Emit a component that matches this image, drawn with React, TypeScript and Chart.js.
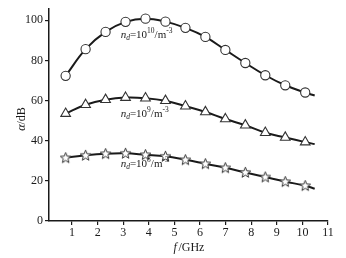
import React, { useEffect, useRef } from "react";
import { Chart, registerables } from "chart.js";

Chart.register(...registerables);

const freqs = [0.75, 1.53, 2.31, 3.09, 3.87, 4.65, 5.43, 6.21, 6.99, 7.77, 8.55, 9.33, 10.11];
const lineEndFreq = 10.48;
const alpha1e10 = [72.3, 85.6, 94.2, 99.2, 100.8, 99.3, 96.2, 91.7, 85.2, 78.7, 72.6, 67.6, 64.0];
const alpha1e9 = [53.5, 57.9, 60.4, 61.5, 61.2, 59.9, 57.2, 54.3, 50.8, 47.7, 44.0, 41.6, 39.3];
const alpha1e8 = [31.5, 32.7, 33.5, 33.7, 33.0, 32.2, 30.5, 28.5, 26.5, 24.2, 21.9, 19.6, 17.6];
const lineEndValues = [62.5, 38.3, 16.1];
const xTicks = [1, 2, 3, 4, 5, 6, 7, 8, 9, 10, 11];
const yTicks = [0, 20, 40, 60, 80, 100];
const seriesExponents = ["10", "9", "8"];

const SERIF = "'Liberation Serif', 'Times New Roman', serif";
const INK = "#1a1a1a";

function makeStar(): HTMLCanvasElement {
  const c = document.createElement("canvas");
  c.width = 13;
  c.height = 13;
  const ctx = c.getContext("2d")!;
  const cx = 6.5, cy = 6.8, ro = 5.6, ri = 2.4;
  ctx.beginPath();
  for (let i = 0; i < 10; i++) {
    const r = i % 2 === 0 ? ro : ri;
    const a = -Math.PI / 2 + (i * Math.PI) / 5;
    const px = cx + r * Math.cos(a);
    const py = cy + r * Math.sin(a);
    if (i === 0) ctx.moveTo(px, py);
    else ctx.lineTo(px, py);
  }
  ctx.closePath();
  ctx.fillStyle = "#fff";
  ctx.fill();
  ctx.strokeStyle = "#333";
  ctx.lineWidth = 1;
  ctx.stroke();
  return c;
}

const toPts = (vals: number[], end?: number) => {
  const pts = freqs.map((f, i) => ({ x: f, y: vals[i] }));
  if (end !== undefined) pts.push({ x: lineEndFreq, y: end });
  return pts;
};

export default function App() {
  const ref = useRef<HTMLCanvasElement | null>(null);

  useEffect(() => {
    if (!ref.current) return;
    const star = makeStar();

    const labelsPlugin = {
      id: "customText",
      afterDraw(chart: any) {
        const ctx = chart.ctx as CanvasRenderingContext2D;
        const xs = chart.scales.x;
        const ys = chart.scales.y;
        ctx.save();
        ctx.fillStyle = INK;
        ctx.textBaseline = "alphabetic";
        ctx.textAlign = "left";
        // series annotations
        const anchors = [
          { x: 2.9, y: 91.2 },
          { x: 2.9, y: 51.9 },
          { x: 2.9, y: 27.1 },
        ];
        anchors.forEach((a, i) => {
          let px = xs.getPixelForValue(a.x);
          const py = ys.getPixelForValue(a.y);
          ctx.font = `italic 11px ${SERIF}`;
          ctx.fillText("n", px, py);
          px += ctx.measureText("n").width;
          ctx.font = `italic 7.5px ${SERIF}`;
          ctx.fillText("d", px, py + 2);
          px += ctx.measureText("d").width;
          ctx.font = `11px ${SERIF}`;
          ctx.fillText("=10", px, py);
          px += ctx.measureText("=10").width;
          ctx.font = `7.5px ${SERIF}`;
          ctx.fillText(seriesExponents[i], px, py - 4.5);
          px += ctx.measureText(seriesExponents[i]).width;
          ctx.font = `11px ${SERIF}`;
          ctx.fillText("/m", px, py);
          px += ctx.measureText("/m").width;
          ctx.font = `7.5px ${SERIF}`;
          ctx.fillText("-3", px, py - 4.5);
        });
        // x title
        ctx.font = `italic 12px ${SERIF}`;
        const fW = ctx.measureText("f").width;
        ctx.font = `12px ${SERIF}`;
        const restW = ctx.measureText("/GHz").width;
        const total = fW + 1.5 + restW;
        let tx = 189 - total / 2;
        ctx.textBaseline = "middle";
        ctx.font = `italic 12px ${SERIF}`;
        ctx.fillText("f", tx, 248);
        tx += fW + 1.5;
        ctx.font = `12px ${SERIF}`;
        ctx.fillText("/GHz", tx, 248);
        // y title
        ctx.translate(22, 119);
        ctx.rotate(-Math.PI / 2);
        ctx.font = `italic 12px ${SERIF}`;
        const aW = ctx.measureText("α").width;
        ctx.font = `12px ${SERIF}`;
        const dW = ctx.measureText("/dB").width;
        let ty = -(aW + dW) / 2;
        ctx.font = `italic 12px ${SERIF}`;
        ctx.fillText("α", ty, 0);
        ty += aW;
        ctx.font = `12px ${SERIF}`;
        ctx.fillText("/dB", ty, 0);
        ctx.restore();
      },
    };

    const lineDs = (vals: number[], end: number) => ({
      data: toPts(vals, end),
      borderColor: INK,
      borderWidth: 2,
      pointRadius: 0,
      tension: 0.4,
      fill: false,
      order: 2,
    });
    const markDs = (vals: number[], style: any, radius: number) => ({
      data: toPts(vals),
      showLine: false,
      pointStyle: style,
      pointRadius: radius,
      pointBackgroundColor: "#fff",
      pointBorderColor: "#333",
      pointBorderWidth: 1.1,
      order: 1,
    });

    const chart = new Chart(ref.current, {
      type: "line",
      data: {
        datasets: [
          lineDs(alpha1e10, lineEndValues[0]),
          lineDs(alpha1e9, lineEndValues[1]),
          lineDs(alpha1e8, lineEndValues[2]),
          markDs(alpha1e10, "circle", 4.6),
          markDs(alpha1e9, "triangle", 5.6),
          markDs(alpha1e8, star, 6),
        ] as any,
      },
      options: {
        animation: false,
        responsive: true,
        maintainAspectRatio: false,
        layout: { padding: { top: 8, right: 18, left: 0, bottom: 0 } },
        plugins: { legend: { display: false }, tooltip: { enabled: false } },
        scales: {
          x: {
            type: "linear",
            min: 0.1,
            max: 11,
            afterBuildTicks: (s: any) => {
              s.ticks = xTicks.map((v) => ({ value: v }));
            },
            afterFit: (s: any) => {
              s.height = 37;
            },
            border: { display: true, color: INK, width: 1.5 },
            grid: { drawOnChartArea: false, drawTicks: true, tickLength: 4, color: INK, lineWidth: 1.2 },
            ticks: { color: INK, padding: 1, font: { family: SERIF, size: 12 }, maxRotation: 0, autoSkip: false },
          },
          y: {
            type: "linear",
            min: 0,
            max: 105.5,
            afterBuildTicks: (s: any) => {
              s.ticks = yTicks.map((v) => ({ value: v }));
            },
            afterFit: (s: any) => {
              s.width = 49;
            },
            border: { display: true, color: INK, width: 1.5 },
            grid: { drawOnChartArea: false, drawTicks: true, tickLength: 4, color: INK, lineWidth: 1.2 },
            ticks: { color: INK, padding: 2, font: { family: SERIF, size: 12 } },
          },
        },
      },
      plugins: [labelsPlugin],
    });
    return () => chart.destroy();
  }, []);

  return (
    <div style={{ position: "fixed", left: 0, top: 0, width: 346, height: 258, background: "#fff" }}>
      <canvas ref={ref} />
    </div>
  );
}
